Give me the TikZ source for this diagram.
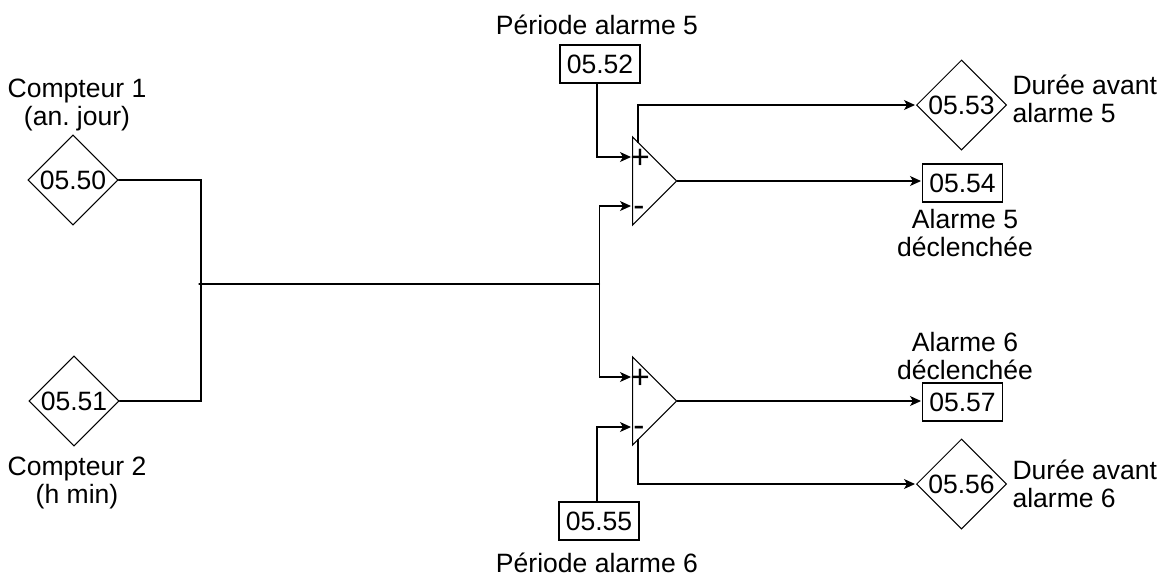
\documentclass[tikz,border=0pt]{standalone}
\usepackage{fontspec}
\setmainfont{Liberation Sans}
\usepackage{xcolor}
\usetikzlibrary{arrows.meta, positioning, shapes.geometric}

\begin{document}
\frenchspacing
\begin{tikzpicture}[
  x=0.02cm, y=-0.02cm,
  font=\fontsize{15.1pt}{15.9pt}\selectfont,
  line width=0.6pt,
  box/.style={rectangle, draw, inner sep=0pt, minimum width=1.6cm, minimum height=0.76cm},
  param/.style={diamond, draw, inner sep=0pt, minimum width=1.8cm, minimum height=1.8cm},
  comparator/.style={isosceles triangle, isosceles triangle apex angle=90, isosceles triangle stretches,
              draw, inner sep=0pt, minimum width=1.76cm, minimum height=0.88cm, anchor=lower side},
  caption/.style={align=center, inner sep=0pt},
  sign/.style={inner sep=0pt, font=\fontsize{19pt}{19pt}\selectfont},
  arrow/.style={-{Stealth[length=0.22cm, width=0.2cm, inset=0.06cm]}, shorten >=0.02cm},
  wire/.style={line cap=round}
]
\useasboundingbox (0,0) rectangle (1166,576);
% parameters on the left
\node[param] (c50) at (73,180) {05.50};
\node[param] (c51) at (74,401) {05.51};
% the two comparators
\node[comparator] (cmp5) at (632,181) {};
\node[comparator] (cmp6) at (632,401) {};
\node[sign] (plus5) at (640,159) {+};
\node[sign] (minus5) at (639,211) {-};
\node[sign] (plus6) at (640,379) {+};
\node[sign] (minus6) at (639,431) {-};
% inputs
\node[box] (p52) at (600,64) {05.52};
\node[box] (p55) at (599,521) {05.55};
% outputs
\node[param] (d53) at (961.5,105) {05.53};
\node[box] (a54) at (962.5,183) {05.54};
\node[box] (a57) at (962.5,402) {05.57};
\node[param] (d56) at (961.5,484) {05.56};
% captions
\node[caption] (l52) at (597,25) {Période alarme 5};
\node[caption] (l55) at (597,562.5) {Période alarme 6};
\node[caption, above=0.06cm of c50.north, xshift=0.08cm] (l50) {Compteur 1\\(an. jour)};
\node[caption, below=0.2cm of c51.south, xshift=0.06cm] (l51) {Compteur 2\\(h min)};
\node[caption, align=left, anchor=west] (l53) at (1012,99) {Durée avant\\alarme 5};
\node[caption, align=left, anchor=west] (l56) at (1012,484) {Durée avant\\alarme 6};
\node[caption] (l54) at (965,233) {Alarme 5\\déclenchée};
\node[caption] (l57) at (965,356) {Alarme 6\\déclenchée};
% wiring
\coordinate (in5) at (632,157);
\coordinate (ref5) at (632,206);
\coordinate (in6) at (632,377);
\coordinate (ref6) at (632,427);
\coordinate (joinL) at (201,284);
\coordinate (busL) at (199,284);
\coordinate (busR) at (599.5,284);
\coordinate (out5) at (638,143);
\coordinate (out6) at (638,439);
\draw[wire] (c50.east) -| (joinL) |- (c51.east);
\draw[wire] (busL) -- (busR);
\draw[arrow] (busR) |- (ref5);
\draw[arrow] (busR) |- (in6);
\draw[arrow] ([xshift=-0.06cm]p52.south) |- (in5);
\draw[arrow] ([xshift=-0.04cm]p55.north) |- (ref6);
\draw[arrow] (cmp5.apex) -- (cmp5.apex -| a54.west);
\draw[arrow] (cmp6.apex) -- (cmp6.apex -| a57.west);
\draw[arrow] (out5) |- (d53.west);
\draw[arrow] (out6) |- (d56.west);
\end{tikzpicture}
\end{document}
